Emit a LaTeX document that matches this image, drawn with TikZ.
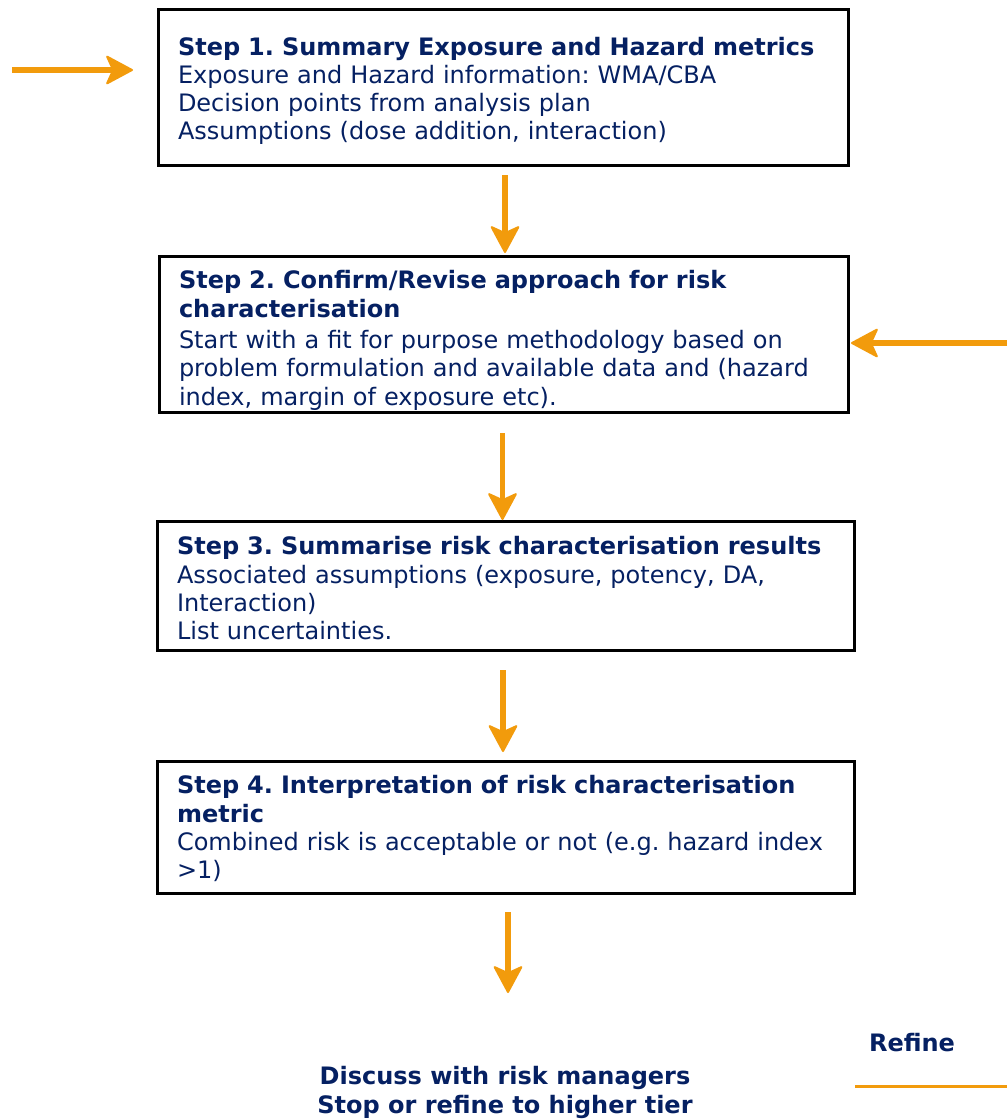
\documentclass[tikz,border=0pt]{standalone}
\usepackage{fontspec}
\setmainfont{DejaVu Sans}
\usetikzlibrary{arrows.meta}
\definecolor{navy}{RGB}{5,32,98}
\definecolor{amber}{RGB}{242,155,12}
\frenchspacing
% strut that sets the height of a box's first text line
\newcommand\firststrut[1]{\rule{0pt}{#1}}
\tikzset{
  headtip/.tip={Stealth[length=29pt, width=31pt, inset=7pt, line width=2pt, round]},
}
\begin{document}
\begin{tikzpicture}[x=1pt,y=-1pt,
  stepbox/.style={draw=black, line width=3pt, rectangle, inner xsep=19.5pt, inner ysep=0pt,
    align=left, text=navy, font=\fontsize{24}{28.3}\selectfont},
  flow/.style={draw=amber, fill=amber, line width=5.8pt, arrows={-headtip}},
  lbl/.style={text=navy, font=\fontsize{24}{29}\selectfont\bfseries, align=center}
]
\useasboundingbox (0,0) rectangle (1007,1119);

% process steps
\node[stepbox, minimum width=690pt, minimum height=156pt, text width=651pt] (b1) at (503.5,87.5)
  {\firststrut{25pt}\textbf{Step 1. Summary Exposure and Hazard metrics}\\
   Exposure and Hazard information: WMA/CBA\\
   Decision points from analysis plan\\
   Assumptions (dose addition, interaction)};
\node[stepbox, minimum width=689pt, minimum height=156pt, text width=650pt] (b2) at (504,334.5)
  {\firststrut{30pt}\textbf{Step 2. Confirm/Revise approach for risk}\\
   \textbf{characterisation}\\[3pt]
   Start with a fit for purpose methodology based on\\
   problem formulation and available data and (hazard\\
   index, margin of exposure etc).};
\node[stepbox, minimum width=697pt, minimum height=129pt, text width=658pt] (b3) at (506,586)
  {\firststrut{23pt}\textbf{Step 3. Summarise risk characterisation results}\\
   Associated assumptions (exposure, potency, DA,\\
   Interaction)\\
   List uncertainties.};
\node[stepbox, minimum width=697pt, minimum height=132pt, text width=658pt] (b4) at (506,827.5)
  {\firststrut{21pt}\textbf{Step 4. Interpretation of risk characterisation}\\
   \textbf{metric}\\
   \mbox{Combined risk is acceptable or not (e.g. hazard index}\\
   >1)};

% outcome texts
\node[lbl] (out) at (505,1092) {Discuss with risk managers\\Stop or refine to higher tier};
\node[lbl] (refine) at (912,1043) {Refine};

% free ends of the incoming and outgoing connectors
\coordinate (srcL) at (12,70);
\coordinate (srcR) at (1007,343);
\coordinate (endD) at (508,993);
\coordinate (lnA) at (855,1086);
\coordinate (lnB) at (1007,1086);

% connectors
\draw[flow, shorten >=24pt] (srcL) -- (srcL -| b1.west);
\draw[flow, shorten >=1pt] (srcR) -- (srcR -| b2.east);
\draw[flow, shorten <=8pt, shorten >=2pt] ([xshift=1.5pt]b1.south) -- ([xshift=1pt]b2.north);
\draw[flow, shorten <=19pt, shorten >=0pt] ([xshift=-1.5pt]b2.south) -- ([xshift=-3.5pt]b3.north);
\draw[flow, shorten <=18pt, shorten >=8pt] ([xshift=-3pt]b3.south) -- ([xshift=-3pt]b4.north);
\draw[flow, shorten <=17pt] (b4.south -| endD) -- (endD);
\draw[amber, line width=3pt] (lnA) -- (lnB);
\end{tikzpicture}
\end{document}
